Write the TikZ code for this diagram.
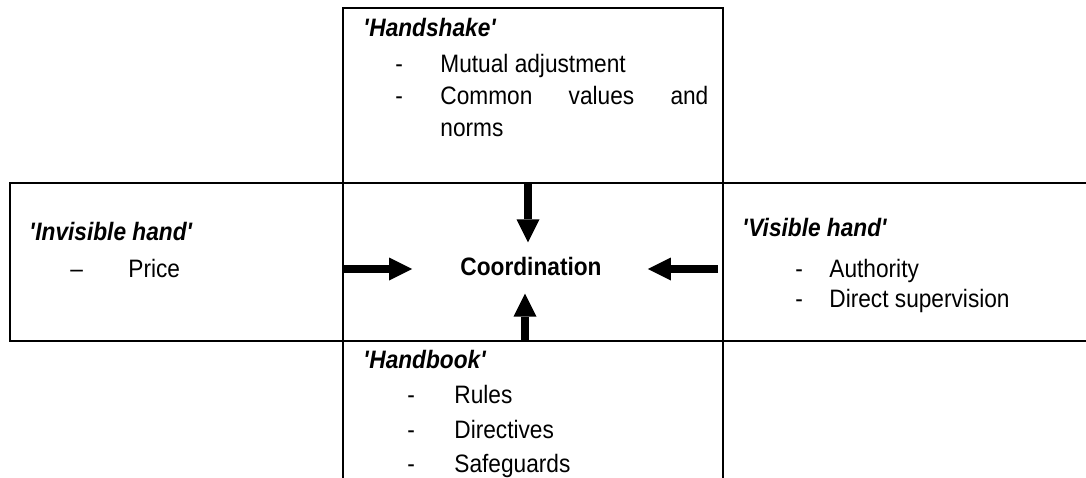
\documentclass[tikz,border=0pt]{standalone}
\usepackage{fontspec}
\setmainfont{Liberation Sans}[FakeStretch=0.9]
\usetikzlibrary{arrows.meta}
\newcommand\diagfont{\fontsize{12.6}{16}\selectfont}
\tikzset{
  frame/.style={line width=1.1pt},
  fat/.style={line width=4pt,-{Triangle[width=11.5pt,length=11.5pt,line width=0pt]}},
  head/.style={anchor=base west,inner sep=0pt,font=\diagfont\bfseries\itshape},
  item/.style={anchor=base west,inner sep=0pt,font=\diagfont}
}
\begin{document}
\begin{tikzpicture}[x=0.5pt,y=-0.5pt]
\useasboundingbox (0,0) rectangle (1086,477);
\clip (0,0) rectangle (1086,477);
% the cross of boxes
\draw[frame] (1100,183) -- (10,183) -- (10,341) -- (1100,341);
\draw[frame] (343,490) -- (343,8) -- (723,8) -- (723,490);

\node[inner sep=0pt,font=\diagfont\bfseries] (coord) at (531,266) {Coordination};

% top box
\node[head] (shake) at (363,36) {\textquotesingle Handshake\textquotesingle};
\node[item] (shake1d) at (395,72) {-};
\node[item] (shake1) at (440,72) {Mutual adjustment};
\node[item] (shake2d) at (395,104) {-};
\node[item] (shake2) at (440,104) {\hbox to 134pt{Common\hfill values\hfill and}};
\node[item] (shake3) at (440,136) {norms};

% left box
\node[head] (invis) at (29,240) {\textquotesingle Invisible hand\textquotesingle};
\node[item] (invis1d) at (70,277) {--};
\node[item] (invis1) at (128,277) {Price};

% right box
\node[head] (vis) at (742,236) {\textquotesingle Visible hand\textquotesingle};
\foreach \y/\t in {277/Authority,307/Direct supervision}
{\node[item] (vis\y d) at (795,\y) {-};
 \node[item] (vis\y) at (829,\y) {\t};}

% bottom box
\node[head] (book) at (363,368) {\textquotesingle Handbook\textquotesingle};
\foreach \y/\t in {403/Rules,438/Directives,472/Safeguards}
{\node[item] (book\y d) at (407,\y) {-};
 \node[item] (book\y) at (454,\y) {\t};}

% arrows into the centre
\coordinate (intop) at (528,183);
\coordinate (inbot) at (525,341);
\coordinate (inleft) at (343,269);
\coordinate (inright) at (718,269);
\draw[fat,shorten >=7pt] (intop) -- (intop |- coord.north);
\draw[fat,shorten >=9pt] (inbot) -- (inbot |- coord.south);
\draw[fat,shorten >=24pt] (inleft) -- (inleft -| coord.west);
\draw[fat,shorten >=23pt] (inright) -- (inright -| coord.east);
\end{tikzpicture}
\end{document}
